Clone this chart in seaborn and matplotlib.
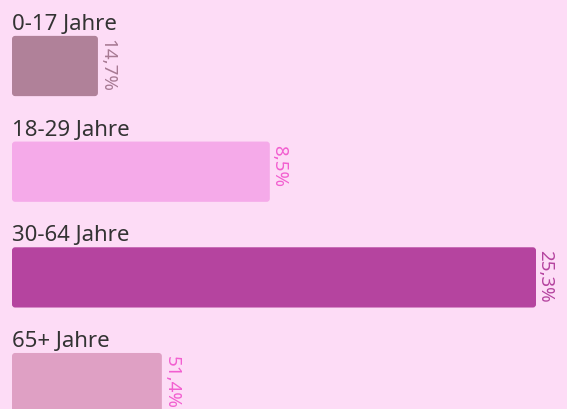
import matplotlib
matplotlib.use('Agg')
import matplotlib.pyplot as plt
from matplotlib.patches import FancyBboxPatch
import pandas as pd
import seaborn as sns

# data
groups = ['0-17 Jahre', '18-29 Jahre', '30-64 Jahre', '65+ Jahre']
bar_length = [16.4, 49.2, 100.0, 28.6]  # relative bar lengths (30-64 = 100)
share_labels = ['14,7%', '8,5%', '25,3%', '51,4%']

bar_colors = ['#b08199', '#f5aae9', '#b5449f', '#dfa0c4']
label_colors = ['#a77a93', '#f25fd0', '#b5449f', '#f25fd0']
background = '#fddcf6'

df = pd.DataFrame({'group': groups, 'length': bar_length})

sns.set_style('white')
plt.rcParams['font.family'] = ['Noto Sans', 'DejaVu Sans']

fig = plt.figure(figsize=(5.67, 4.10), dpi=100, facecolor=background)
ax = fig.add_axes([0, 0, 1, 1])
ax.set_facecolor(background)

sns.barplot(data=df, y='group', x='length', hue='group', palette=bar_colors,
            orient='h', width=0.57, legend=False, ax=ax)

# pixel scales: 5.24 px per x unit, 105.7 px per category
px_x, px_y = 5.24, 105.7
ax.set_xlim(-12 / px_x, (567 - 12) / px_x)
ax.set_ylim((410 - 67) / px_y, -67 / px_y)

# swap the plain rectangles for rounded ones
for patch, color in zip(list(ax.patches), bar_colors):
    x, y = patch.get_x(), patch.get_y()
    w, h = patch.get_width(), patch.get_height()
    patch.set_visible(False)
    ax.add_patch(FancyBboxPatch(
        (x, y), w, h, boxstyle='round,pad=0,rounding_size=0.6',
        mutation_aspect=px_x / px_y, facecolor=color, edgecolor='none'))

for i, (name, val, lab, lc) in enumerate(
        zip(groups, bar_length, share_labels, label_colors)):
    top = i - 0.285
    ax.text(0, top - 7 / px_y, name, fontsize=16, color='#333333',
            ha='left', va='baseline')
    ax.text(val + 0.5 / px_x, top + 2 / px_y, lab, fontsize=13.5, color=lc,
            rotation=-90, ha='left', va='top')

ax.axis('off')
fig.savefig('out.png', dpi=100, facecolor=background)
